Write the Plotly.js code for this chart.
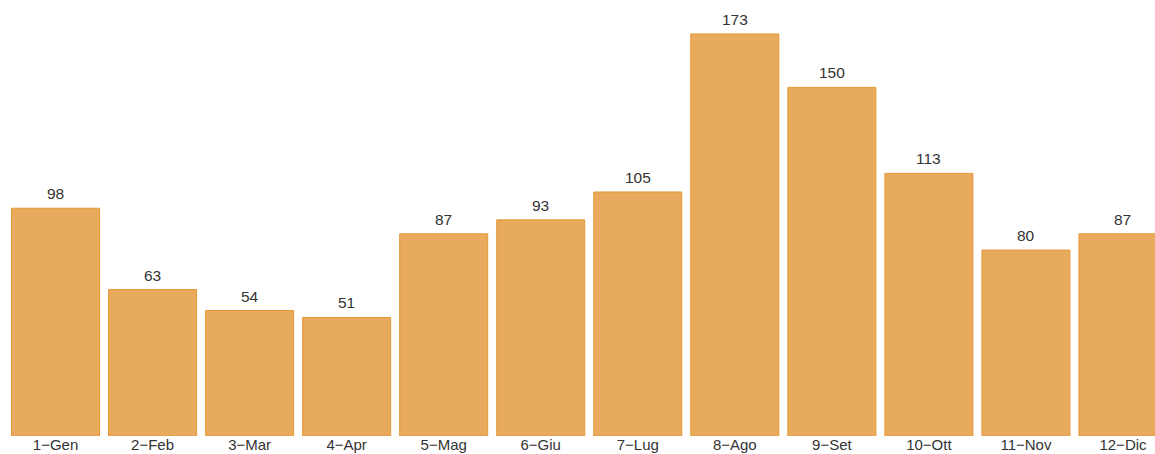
<!DOCTYPE html>
<html>
<head>
<meta charset="utf-8">
<script src="https://cdn.plot.ly/plotly-3.0.1.min.js"></script>
<style>html,body{margin:0;padding:0;background:#fff;overflow:hidden}#chart{width:1155px;height:454px}</style>
</head>
<body>
<div id="chart"></div>
<script>
var categories = ["1\u2212Gen","2\u2212Feb","3\u2212Mar","4\u2212Apr","5\u2212Mag","6\u2212Giu","7\u2212Lug","8\u2212Ago","9\u2212Set","10\u2212Ott","11\u2212Nov","12\u2212Dic"];
var values = [98, 63, 54, 51, 87, 93, 105, 173, 150, 113, 80, 87];

var trace = {
  type: 'bar',
  x: categories,
  y: values,
  marker: {color: 'rgb(232,170,92)', line: {color: 'rgb(230,152,52)', width: 1}},
  hoverinfo: 'none'
};

var annotations = categories.map(function (c, i) {
  return {
    x: c, y: values[i], xref: 'x', yref: 'y',
    text: String(values[i]),
    showarrow: false,
    yanchor: 'bottom',
    yshift: 4,
    font: {family: 'Liberation Sans, Arial, sans-serif', size: 15.5, color: '#333333'}
  };
});

var layout = {
  width: 1155,
  height: 454,
  margin: {l: 6.5, r: 0, t: 0, b: 18},
  paper_bgcolor: '#ffffff',
  plot_bgcolor: '#ffffff',
  bargap: 0.093,
  showlegend: false,
  font: {family: 'Liberation Sans, Arial, sans-serif', size: 15, color: '#333333'},
  annotations: annotations,
  xaxis: {
    type: 'category',
    range: [-0.5, 11.33],
    showgrid: false, zeroline: false, showline: false,
    ticks: '', ticklen: 0,
    ticklabelstandoff: -2,
    tickfont: {size: 15, color: '#333333'},
    fixedrange: true
  },
  yaxis: {
    range: [0, 187.6],
    visible: false,
    showgrid: false, zeroline: false,
    fixedrange: true
  }
};

Plotly.newPlot('chart', [trace], layout, {displayModeBar: false, staticPlot: true});
</script>
</body>
</html>
